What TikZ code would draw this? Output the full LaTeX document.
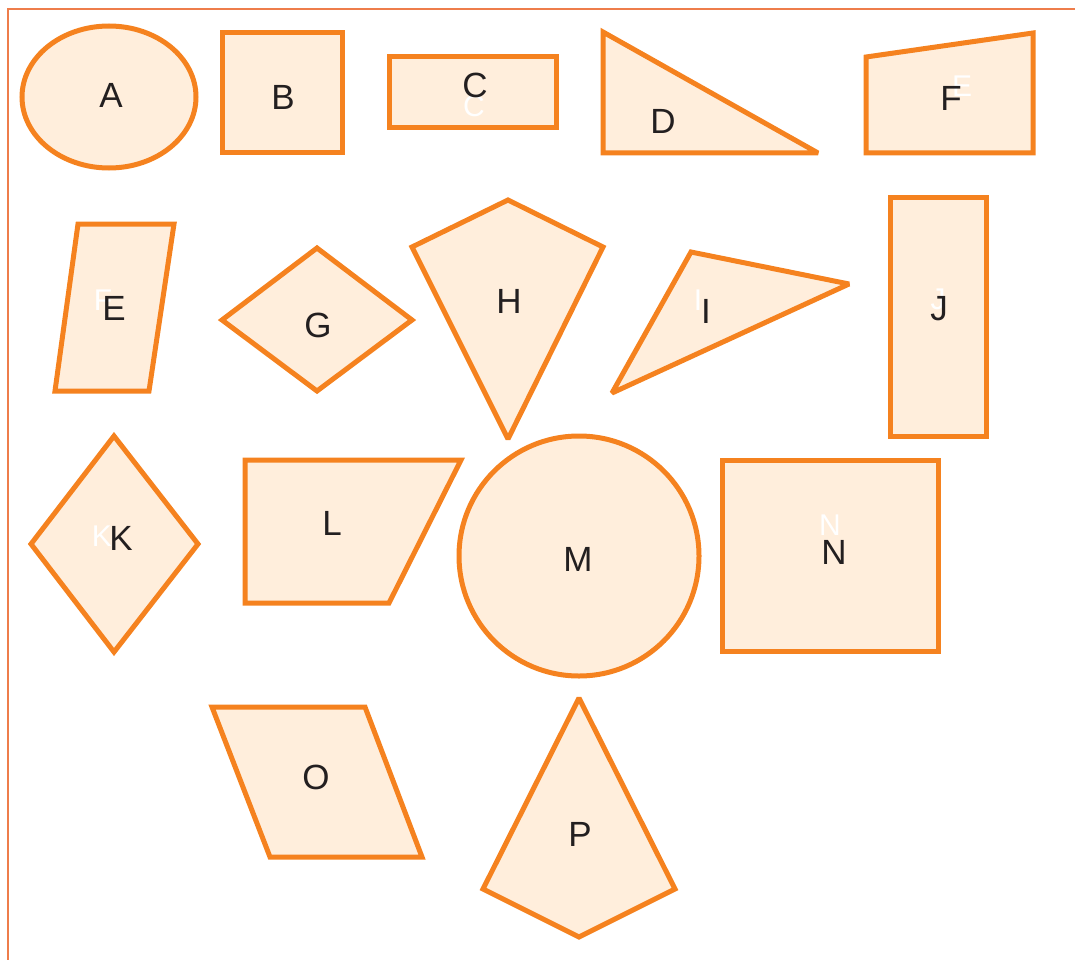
\documentclass[tikz,border=0pt]{standalone}
\usepackage{fontspec}
\setmainfont{Liberation Sans}
\definecolor{edge}{HTML}{F5821F}
\definecolor{fillc}{HTML}{FFEEDC}
\definecolor{frame}{HTML}{EE7D4B}
\definecolor{ink}{HTML}{231F20}
\begin{document}
\begin{tikzpicture}[x=1pt,y=-1pt,
  shp/.style={draw=edge,fill=fillc,line width=5pt,line join=miter,miter limit=2},
  lbl/.style={inner sep=0pt,text=ink,font=\fontsize{35}{40}\selectfont},
  ghost/.style={inner sep=0pt,text=white,font=\fontsize{30}{34}\selectfont}]
\useasboundingbox (0,0) rectangle (1075,960);
% frame
\draw[frame,line width=1.8pt] (8,960) -- (8,9) -- (1075,9);
% A
\draw[shp] (109,97) ellipse [x radius=87, y radius=71];
\node[lbl] (a) at (111,95) {A};
% B
\draw[shp] (222,33) rectangle (342,153);
\node[lbl] (b) at (283,97) {B};
% C
\draw[shp] (389,57) rectangle (556,128);
\node[ghost] (cg) at (474,106) {C};
\node[lbl] (c) at (475,85) {C};
% D
\draw[shp] (603,32) -- (818,153) -- (603,153) -- cycle;
\node[lbl] (d) at (663,121) {D};
% F
\draw[shp] (866,57) -- (1033,33) -- (1033,153) -- (866,153) -- cycle;
\node[ghost] (fg) at (962,86) {E};
\node[lbl] (f) at (951,98) {F};
% E
\draw[shp] (78,224) -- (174,224) -- (149,391) -- (55,391) -- cycle;
\node[ghost] (eg) at (103,300) {F};
\node[lbl] (e) at (114,308) {E};
% G
\draw[shp] (222,320) -- (317,248) -- (412,320) -- (317,391) -- cycle;
\node[lbl] (g) at (318,325) {G};
% H
\draw[shp] (412,247) -- (508,200) -- (603,247) -- (508,439) -- cycle;
\node[lbl] (h) at (509,301) {H};
% I
\draw[shp] (691,252) -- (849,284) -- (612,393) -- cycle;
\node[ghost] (ig) at (698,300) {I};
\node[lbl] (i) at (706,311) {I};
% J
\draw[shp] (890,197) rectangle (986,436);
\node[ghost] (jg) at (938,299) {J};
\node[lbl] (j) at (939,309) {J};
% K
\draw[shp] (114,436) -- (198,544) -- (114,652) -- (31,544) -- cycle;
\node[ghost] (kg) at (102,536) {K};
\node[lbl] (k) at (121,538) {K};
% L
\draw[shp] (245,460) -- (461,460) -- (389,603) -- (245,603) -- cycle;
\node[lbl] (l) at (332,523) {L};
% M
\draw[shp] (579,556) circle [radius=120];
\node[lbl] (m) at (578,559) {M};
% N
\draw[shp] (722,460) rectangle (938,651);
\node[ghost] (ng) at (830,525) {N};
\node[lbl] (n) at (834,552) {N};
% O
\draw[shp] (212,707) -- (365,707) -- (422,857) -- (270,857) -- cycle;
\node[lbl] (o) at (316,777) {O};
% P
\draw[shp] (579,698) -- (675,889) -- (579,937) -- (483,889) -- cycle;
\node[lbl] (p) at (580,834) {P};
\end{tikzpicture}
\end{document}
